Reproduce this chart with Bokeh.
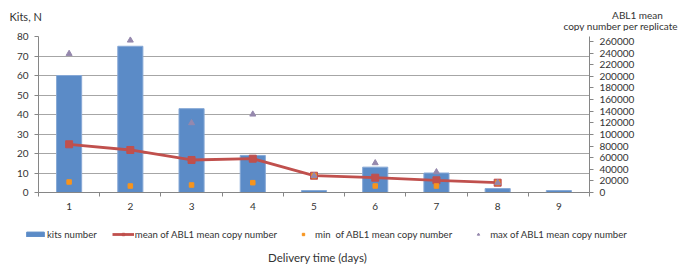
from bokeh.plotting import figure
from bokeh.models import (Range1d, LinearAxis, FixedTicker, Label, Legend, LegendItem,
                          BasicTickFormatter)
from bokeh.embed import file_html
from bokeh.resources import INLINE

# ---- data ----
days = [1, 2, 3, 4, 5, 6, 7, 8, 9]
day_labels = ["1", "2", "3", "4", "5", "6", "7", "8", "9"]
kits = [60, 75, 43, 19, 1, 13, 10, 2, 1]
mean_days = [1, 2, 3, 4, 5, 6, 7, 8]
mean_copy = [83000, 73200, 56000, 58200, 28900, 25500, 21000, 16900]
min_copy = [18100, 11200, 12900, 16900, 28900, 11200, 11200, 16900]
max_copy = [239000, 262000, 119700, 134600, 28900, 50800, 35300, 16900]
left_ticks = [0, 10, 20, 30, 40, 50, 60, 70, 80]
right_ticks = [0, 20000, 40000, 60000, 80000, 100000, 120000, 140000, 160000,
               180000, 200000, 220000, 240000, 260000]
boundaries = [0.5, 1.5, 2.5, 3.5, 4.5, 5.5, 6.5, 7.5, 8.5, 9.5]

FONT = "Lato"
TXT = "#333333"
AX = "#868686"
BAR = "#5b8bc7"
BAR_EDGE = "#86a8d6"
RED = "#c0504d"
ORANGE = "#f7941d"
PURPLE = "#9588ad"

W = 679
TOP_H = 31
MAIN_H = 185
BOT_H = 266 - TOP_H - MAIN_H


def strip(h):
    f = figure(width=W, height=h, x_range=Range1d(0, W), y_range=Range1d(h, 0),
               output_backend="svg", toolbar_location=None,
               min_border_left=0, min_border_right=0, min_border_top=0, min_border_bottom=0,
               x_axis_type=None, y_axis_type=None)
    f.outline_line_color = None
    f.grid.visible = False
    return f


# ---------- top strip with the axis titles ----------
top = strip(TOP_H)
for txt, x, y, align, size in [
    ("Kits, N", 9, 16, "left", "11px"),
    ("ABL1 mean", 637, 14.5, "center", "10px"),
    ("copy number per replicate", 563, 25.5, "left", "10px"),
]:
    top.add_layout(Label(x=x, y=y, text=txt, text_font=FONT, text_font_size=size,
                         text_color=TXT, text_align=align, text_baseline="middle"))

# ---------- main chart ----------
p = figure(width=W, height=MAIN_H, x_range=Range1d(0.5, 9.5), y_range=Range1d(0, 80),
           output_backend="svg", toolbar_location=None,
           min_border_left=38, min_border_right=90, min_border_top=5, min_border_bottom=24)
p.extra_y_ranges = {"copy": Range1d(0, 268600)}
p.outline_line_color = None

# x axis: labels under the bars, tick marks at category boundaries
p.xaxis.ticker = FixedTicker(ticks=days, minor_ticks=boundaries)
p.xaxis.major_label_overrides = {d: s for d, s in zip(days, day_labels)}
p.xaxis.major_tick_line_color = None
p.xaxis.major_tick_out = 0
p.xaxis.major_tick_in = 0
p.xaxis.minor_tick_out = 4
p.xaxis.minor_tick_in = 0
p.xaxis.minor_tick_line_color = AX
p.xaxis.axis_line_color = AX
p.xaxis.major_label_text_font = FONT
p.xaxis.major_label_text_font_size = "10px"
p.xaxis.major_label_text_color = TXT
p.xaxis.major_label_standoff = 6
p.xgrid.visible = False

# left axis
p.yaxis.ticker = FixedTicker(ticks=left_ticks)
p.yaxis.major_tick_out = 4
p.yaxis.major_tick_in = 0
p.yaxis.minor_tick_line_color = None
p.yaxis.axis_line_color = AX
p.yaxis.major_tick_line_color = AX
p.yaxis.major_label_text_font = FONT
p.yaxis.major_label_text_font_size = "10px"
p.yaxis.major_label_text_color = TXT
p.yaxis.major_label_standoff = 6
p.ygrid.ticker = FixedTicker(ticks=left_ticks)
p.ygrid.grid_line_color = "#a6a6a6"

# right axis
ra = LinearAxis(y_range_name="copy", ticker=FixedTicker(ticks=right_ticks),
                formatter=BasicTickFormatter(use_scientific=False))
ra.major_tick_out = 4
ra.major_tick_in = 0
ra.minor_tick_line_color = None
ra.axis_line_color = AX
ra.major_tick_line_color = AX
ra.major_label_text_font = FONT
ra.major_label_text_font_size = "10px"
ra.major_label_text_color = TXT
ra.major_label_standoff = 6
p.add_layout(ra, "right")

# glyphs
p.vbar(x=days, top=kits, width=0.41, fill_color=BAR, line_color=BAR_EDGE, line_width=1)
p.line(mean_days, mean_copy, y_range_name="copy", line_color=RED, line_width=2.8)
p.scatter(mean_days, mean_copy, y_range_name="copy", marker="square", size=7,
          fill_color=RED, line_color=RED)
p.scatter(days[:8], min_copy, y_range_name="copy", marker="square", size=4.5,
          fill_color=ORANGE, line_color=ORANGE)
p.scatter(days[:8], max_copy, y_range_name="copy", marker="triangle", size=6,
          fill_color=PURPLE, line_color=PURPLE)

# ---------- bottom strip: legend and x-axis title ----------
bot = strip(BOT_H)
lb = bot.vbar(x=days, top=kits, width=0.41, fill_color=BAR, line_color=BAR, visible=False)
ll = bot.line(mean_days, mean_copy, line_color=RED, line_width=2.8, visible=False)
ls = bot.scatter(mean_days, mean_copy, marker="square", size=6, fill_color=RED,
                 line_color=RED, visible=False)
ln = bot.scatter(days[:8], min_copy, marker="square", size=4, fill_color=ORANGE,
                 line_color=ORANGE, visible=False)
lx = bot.scatter(days[:8], max_copy, marker="triangle", size=5, fill_color=PURPLE,
                 line_color=PURPLE, visible=False)
legend = Legend(items=[
    LegendItem(label="kits number", renderers=[lb]),
    LegendItem(label="mean of ABL1 mean copy number", renderers=[ll, ls]),
    LegendItem(label="min  of ABL1 mean copy number", renderers=[ln]),
    LegendItem(label="max of ABL1 mean copy number", renderers=[lx]),
], orientation="horizontal", location=(24, 26))
legend.padding = 0
legend.margin = 0
legend.spacing = 15
legend.glyph_width = 22
legend.glyph_height = 6
legend.label_height = 12
legend.label_standoff = 1
legend.border_line_color = None
legend.background_fill_alpha = 0
legend.inactive_fill_alpha = 0
legend.label_text_font = FONT
legend.label_text_font_size = "9.6px"
legend.label_text_color = TXT
bot.add_layout(legend, "center")
bot.add_layout(Label(x=317, y=40.5, text="Delivery time (days)", text_font=FONT,
                     text_font_size="11.5px", text_color=TXT, text_align="center",
                     text_baseline="middle"))

open("out.html", "w").write(file_html([top, p, bot], INLINE))
